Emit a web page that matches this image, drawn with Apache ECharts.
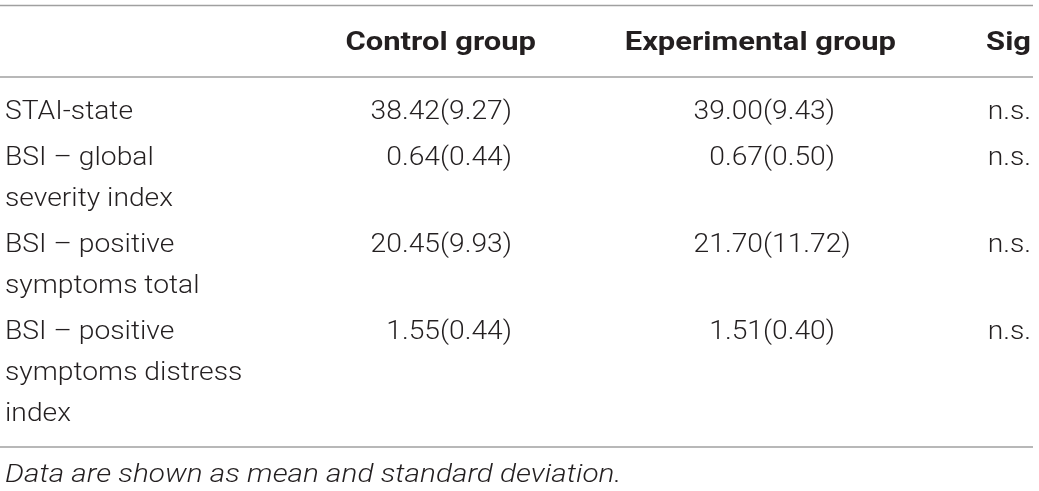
<!DOCTYPE html>
<html>
<head>
<meta charset="utf-8">
<script src="https://cdn.jsdelivr.net/npm/echarts@6/dist/echarts.min.js"></script>
<style>
  html, body { margin: 0; padding: 0; background: #fff; }
  #table { width: 1039px; height: 491px; }
</style>
</head>
<body>
<div id="table"></div>
<script>
// table content
const headers = ['Control group', 'Experimental group', 'Sig'];
const rowLabels = [
    ['STAI-state'],
    ['BSI \u2013 global', 'severity index'],
    ['BSI \u2013 positive', 'symptoms total'],
    ['BSI \u2013 positive', 'symptoms distress', 'index']
];
const controlMean = ['38.42', '0.64', '20.45', '1.55'];
const controlSd = ['9.27', '0.44', '9.93', '0.44'];
const expMean = ['39.00', '0.67', '21.70', '1.51'];
const expSd = ['9.43', '0.50', '11.72', '0.40'];
const sig = ['n.s.', 'n.s.', 'n.s.', 'n.s.'];
const note = 'Data are shown as mean and standard deviation.';

// layout
const left = 5, right = 1031;
const lineH = 41, rowGap = 5, firstRowY = 113;
const fam = 'Roboto, "Liberation Sans", sans-serif';
const bodyFont = '300 25px ' + fam;
const headFont = 'bold 26px ' + fam;
const noteFont = 'italic 300 25px ' + fam;
const ink = '#231f20';
const rule = '#a0a0a0';

const chart = echarts.init(document.getElementById('table'), null, {renderer: 'canvas'});

const txt = (text, x, y, align, font, stretch) => ({
    type: 'text',
    x: x, y: y,
    scaleX: stretch || 1.13,
    style: {text, x: 0, y: 0, font: font || bodyFont, fill: ink, align, verticalAlign: 'middle'}
});
const hline = (y) => ({
    type: 'line',
    shape: {x1: 0, y1: y, x2: right + 2, y2: y},
    style: {stroke: rule, lineWidth: 1.5}
});

const elements = [hline(5.5), hline(77), hline(447)];

elements.push(txt(headers[0], 536, 43, 'right', headFont, 1.19));
elements.push(txt(headers[1], 896, 43, 'right', headFont, 1.19));
elements.push(txt(headers[2], right, 43, 'right', headFont, 1.19));

let y = firstRowY;
rowLabels.forEach((lines, i) => {
    lines.forEach((l, k) => elements.push(txt(l, left, y + k * lineH, 'left')));
    elements.push(txt(controlMean[i], 440, y, 'right'));
    elements.push(txt('(' + controlSd[i] + ')', 440, y, 'left'));
    elements.push(txt(expMean[i], 763, y, 'right'));
    elements.push(txt('(' + expSd[i] + ')', 763, y, 'left'));
    elements.push(txt(sig[i], right, y, 'right'));
    y += lines.length * lineH + rowGap;
});

elements.push(txt(note, left, 476, 'left', noteFont, 1.19));

chart.setOption({
    backgroundColor: '#fff',
    animation: false,
    graphic: elements
});
</script>
</body>
</html>
